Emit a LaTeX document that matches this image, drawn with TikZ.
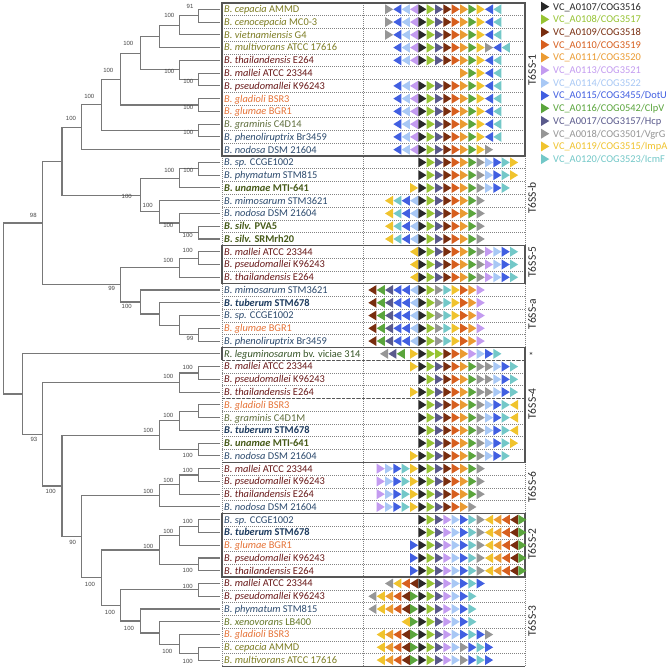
\documentclass[tikz,border=0pt]{standalone}
\usepackage{fontspec}
\setmainfont{Carlito}
\newfontfamily\bsfont{Liberation Sans}
\definecolor{gk}{RGB}{40,40,40}
\definecolor{gl}{RGB}{150,195,50}
\definecolor{gb}{RGB}{120,45,15}
\definecolor{gr}{RGB}{215,95,30}
\definecolor{go}{RGB}{235,155,50}
\definecolor{gp}{RGB}{195,155,240}
\definecolor{gq}{RGB}{168,200,245}
\definecolor{gu}{RGB}{65,95,225}
\definecolor{gg}{RGB}{90,165,60}
\definecolor{gs}{RGB}{90,90,140}
\definecolor{gv}{RGB}{150,150,150}
\definecolor{gy}{RGB}{240,195,45}
\definecolor{gt}{RGB}{115,200,200}
\definecolor{tOl}{RGB}{125,125,35}
\definecolor{tMa}{RGB}{105,25,25}
\definecolor{tOr}{RGB}{230,115,55}
\definecolor{tGr}{RGB}{95,110,60}
\definecolor{tBl}{RGB}{45,75,110}
\definecolor{tBg}{RGB}{70,90,25}
\definecolor{tBb}{RGB}{30,60,95}
\definecolor{tRl}{RGB}{55,85,40}
\definecolor{tXe}{RGB}{100,120,40}
\definecolor{treegray}{RGB}{120,120,120}
\definecolor{bsgray}{RGB}{70,70,70}
\definecolor{sepgray}{RGB}{130,130,130}
\definecolor{boxgray}{RGB}{85,85,85}
\definecolor{grpgray}{RGB}{40,40,40}
\tikzset{
  tree/.style={draw=treegray,line width=1.1pt},
  lab/.style={anchor=base west,inner sep=0pt,font=\fontsize{10.4}{12}\selectfont},
  leg/.style={anchor=base west,inner sep=0pt,font=\fontsize{10.4}{12}\selectfont},
  bs/.style={inner sep=0pt,font=\bsfont\fontsize{6}{7}\selectfont,text=bsgray},
  grp/.style={rotate=90,inner sep=0pt,font=\fontsize{11.5}{13}\selectfont,text=grpgray},
  rowsep/.style={draw=sepgray,line width=0.6pt,dash pattern=on 1pt off 1pt},
  boxline/.style={draw=boxgray,line width=1.4pt},
  dashline/.style={draw=boxgray,line width=1.4pt,dash pattern=on 3pt off 2pt},
}
\newcommand\rowy[1]{\pgfmathsetmacro\yy{9.3+12.76*(#1-1)}}
\newcommand\arow[3]{\rowy{#1}%
  \foreach \cl/\dr [count=\ii from 0] in {#3}{%
    \pgfmathsetmacro\xx{360+8.333*(#2+\ii)}%
    \if\dr R\fill[fill=g\cl] (\xx,\yy-5) -- (\xx,\yy+5) -- (\xx+8.1,\yy) -- cycle;%
    \else\fill[fill=g\cl] (\xx+8.1,\yy-5) -- (\xx+8.1,\yy+5) -- (\xx,\yy) -- cycle;\fi}}
\newcommand\lab[3]{\rowy{#1}\node[lab,text=#2] (l#1) at (224,\yy+3.4) {#3};\coordinate (t#1) at (220,\yy);}
\newcommand\legi[3]{\pgfmathsetmacro\ly{6.7+12.7*(#1-1)}%
  \fill[fill=g#2] (541,\ly-5) -- (541,\ly+5) -- (549.3,\ly) -- cycle;%
  \node[leg,text=g#2] (e#1) at (553,\ly+3.4) {#3};}
\begin{document}
\begin{tikzpicture}[x=1pt,y=-1pt]
\useasboundingbox (0,0) rectangle (670,671);
\fill[white] (0,0) rectangle (670,671);
% table grid
\foreach \i in {1,...,51} \draw[rowsep] (222,{2.92+12.76*\i}) -- (525,{2.92+12.76*\i});
\draw[rowsep] (363,2.92) -- (363,666.44);
\foreach \a/\b in {156.04/245.36,283.64/347.44,462.28/513.32,577.12/666.44}{
  \draw[rowsep] (222,\a) -- (222,\b);
  \draw[rowsep] (525,\a) -- (525,\b);}
\draw[rowsep] (222,360.2) -- (222,462.28);
% solid boxes
\draw[boxline] (222,2.92) rectangle (525,156.04);
\draw[boxline] (222,245.36) rectangle (525,283.64);
\draw[boxline] (222,513.32) rectangle (525,577.12);
\draw[boxline] (222,360.2) -- (222,347.44) -- (525,347.44) -- (525,360.2);
\draw[boxline] (525,360.2) -- (525,462.28) -- (222,462.28);
\draw[dashline] (222,360.2) -- (525,360.2);
\draw[dashline] (222,398.48) -- (525,398.48);
\draw[boxline] (222,666.44) -- (525,666.44);
% gene arrows
\arow{1}{3}{v/R,u/L,q/L,p/L,k/R,l/R,s/R,b/R,r/R,o/R,g/R,y/R,u/L,t/L}
\arow{2}{3}{v/R,u/L,q/L,p/L,k/R,l/R,s/R,b/R,r/R,o/R,g/R,y/R,u/L,t/L}
\arow{3}{3}{v/R,u/L,q/L,p/L,k/R,l/R,s/R,b/R,r/R,o/R,g/R,y/R,u/L,t/L}
\arow{4}{4}{u/L,q/L,p/L,k/R,l/R,s/R,b/R,r/R,o/R,g/R,y/R,v/R,u/L,t/L}
\arow{5}{4}{u/L,q/L,p/L,k/R,l/R,s/R,b/R,r/R,o/R,g/R,y/R,u/L,t/L}
\arow{6}{12}{o/R,g/R,y/R,u/L,t/L}
\foreach \r in {7,...,11}{\arow{\r}{4}{u/L,q/L,p/L,k/R,l/R,s/R,b/R,r/R,o/R,g/R,y/R,u/L,t/L}}
\arow{12}{4}{u/L,q/L,p/L,k/R,l/R,s/R,b/R,r/R,o/R,g/R,y/R,v/R}
\arow{13}{7}{k/R,l/R,s/R,b/R,r/R,o/R,g/R,v/R,q/R,u/R,t/R,y/R}
\arow{14}{7}{k/R,l/R,s/R,b/R,r/R,o/R,g/R,v/R,q/R,u/R,t/R,y/R}
\arow{15}{6}{y/R,k/R,l/R,s/R,b/R,r/R,o/R,g/R,v/R,q/R,u/R,t/R}
\foreach \r in {16,...,19}{\arow{\r}{3}{y/L,t/L,u/L,q/L,k/R,l/R,s/R,b/R,r/R,o/R,g/R,v/R}}
\foreach \r in {20,21,22}{\arow{\r}{6}{y/L,k/R,l/R,s/R,b/R,r/R,o/R,g/R,v/R,p/R,q/R,u/R,t/R}}
\foreach \r in {23,...,27}{\arow{\r}{1}{b/L,g/L,s/L,u/L,u/L,q/L,k/R,l/R,v/R,t/R,y/R,r/R,o/R,p/R}}
\arow{28}{2.4}{v/L,s/L,g/L}
\arow{28}{6}{y/R,k/R,l/R,l/R,b/R,r/R,o/R,p/R,q/R,u/R,t/R}
\arow{29}{6}{y/R,k/R,l/R,s/R,b/R,r/R,o/R,g/R,v/R,v/R,q/R,u/R,t/R}
\arow{30}{7}{k/R,l/R,s/R,b/R,r/R,o/R,g/R,v/R,v/R,q/R,u/R,t/R}
\arow{31}{6}{y/R,k/R,l/R,s/R,b/R,r/R,o/R,g/R,v/R,v/R,q/R,u/R,t/R}
\foreach \r in {32,33,34}{\arow{\r}{7}{k/R,l/R,s/R,b/R,r/R,o/R,g/R,v/R,q/R,u/R,t/R,y/L}}
\arow{35}{7}{k/R,l/R,s/R,b/R,r/R,o/R,g/R,v/R,q/R,u/R,t/R,y/R}
\arow{36}{6}{y/R,k/R,l/R,s/R,b/R,r/R,o/R,g/R,v/R,q/R,u/R,t/R}
\foreach \r in {37,38,39}{\arow{\r}{2}{p/R,q/R,u/R,t/R,y/R,k/R,l/R,s/R,b/R,r/R,o/R,g/R,v/R}}
\arow{40}{2}{p/R,q/R,u/R,t/R,y/R,k/R,l/R,s/R,b/R,r/R,o/R,v/R}
\foreach \r in {41,42}{\arow{\r}{7}{k/R,l/R,s/R,p/R,q/R,u/R,t/R,v/R,y/L,o/L,r/L,b/L,g/R}}
\foreach \r in {43,44,45}{\arow{\r}{6}{u/R,k/R,l/R,s/R,p/R,q/R,u/R,t/R,v/R,y/L,o/L,r/L,b/L,g/R}}
\arow{46}{3}{v/L,y/L,r/L,b/L,k/R,l/R,s/R,p/R,q/R,u/R,t/R,u/R}
\foreach \r in {47,48}{\arow{\r}{1}{v/L,y/L,o/L,r/L,b/L,g/R,k/R,l/R,s/R,p/R,q/R,u/R,t/R}}
\arow{49}{5}{y/L,g/R,k/R,l/R,s/R,p/R,q/R,u/R,t/R}
\arow{50}{2}{y/L,o/L,r/L,b/L,g/R,k/R,l/R,s/R,p/R,q/R,u/R,t/R,u/R,v/R}
\foreach \r in {51,52}{\arow{\r}{2}{y/L,o/L,r/L,b/L,g/R,k/R,l/R,s/R,p/R,q/R,v/R,u/R,t/R,u/R}}
% labels
\lab{1}{tOl}{\textit{B. cepacia} AMMD}
\lab{2}{tOl}{\textit{B. cenocepacia} MC0-3}
\lab{3}{tOl}{\textit{B. vietnamiensis} G4}
\lab{4}{tOl}{\textit{B. multivorans} ATCC 17616}
\lab{5}{tMa}{\textit{B. thailandensis} E264}
\lab{6}{tMa}{\textit{B. mallei} ATCC 23344}
\lab{7}{tMa}{\textit{B. pseudomallei} K96243}
\lab{8}{tOr}{\textit{B. gladioli} BSR3}
\lab{9}{tOr}{\textit{B. glumae} BGR1}
\lab{10}{tGr}{\textit{B. graminis} C4D14}
\lab{11}{tBl}{\textit{B. phenoliruptrix} Br3459}
\lab{12}{tBl}{\textit{B. nodosa} DSM 21604}
\lab{13}{tBl}{\textit{B. sp.} CCGE1002}
\lab{14}{tBl}{\textit{B. phymatum} STM815}
\lab{15}{tBg}{\textbf{\textit{B. unamae} MTI-641}}
\lab{16}{tBl}{\textit{B. mimosarum} STM3621}
\lab{17}{tBl}{\textit{B. nodosa} DSM 21604}
\lab{18}{tBg}{\textbf{\textit{B. silv.} PVA5}}
\lab{19}{tBg}{\textbf{\textit{B. silv.} SRMrh20}}
\lab{20}{tMa}{\textit{B. mallei} ATCC 23344}
\lab{21}{tMa}{\textit{B. pseudomallei} K96243}
\lab{22}{tMa}{\textit{B. thailandensis} E264}
\lab{23}{tBl}{\textit{B. mimosarum} STM3621}
\lab{24}{tBb}{\textbf{\textit{B. tuberum} STM678}}
\lab{25}{tBl}{\textit{B. sp.} CCGE1002}
\lab{26}{tOr}{\textit{B. glumae} BGR1}
\lab{27}{tBl}{\textit{B. phenoliruptrix} Br3459}
\lab{28}{tRl}{\textit{R. leguminosarum} bv. viciae 314}
\lab{29}{tMa}{\textit{B. mallei} ATCC 23344}
\lab{30}{tMa}{\textit{B. pseudomallei} K96243}
\lab{31}{tMa}{\textit{B. thailandensis} E264}
\lab{32}{tOr}{\textit{B. gladioli} BSR3}
\lab{33}{tGr}{\textit{B. graminis} C4D1M}
\lab{34}{tBb}{\textbf{\textit{B. tuberum} STM678}}
\lab{35}{tBg}{\textbf{\textit{B. unamae} MTI-641}}
\lab{36}{tBl}{\textit{B. nodosa} DSM 21604}
\lab{37}{tMa}{\textit{B. mallei} ATCC 23344}
\lab{38}{tMa}{\textit{B. pseudomallei} K96243}
\lab{39}{tMa}{\textit{B. thailandensis} E264}
\lab{40}{tBl}{\textit{B. nodosa} DSM 21604}
\lab{41}{tBl}{\textit{B. sp.} CCGE1002}
\lab{42}{tBb}{\textbf{\textit{B. tuberum} STM678}}
\lab{43}{tOr}{\textit{B. glumae} BGR1}
\lab{44}{tMa}{\textit{B. pseudomallei} K96243}
\lab{45}{tMa}{\textit{B. thailandensis} E264}
\lab{46}{tMa}{\textit{B. mallei} ATCC 23344}
\lab{47}{tMa}{\textit{B. pseudomallei} K96243}
\lab{48}{tBl}{\textit{B. phymatum} STM815}
\lab{49}{tXe}{\textit{B. xenovorans} LB400}
\lab{50}{tOr}{\textit{B. gladioli} BSR3}
\lab{51}{tOl}{\textit{B. cepacia} AMMD}
\lab{52}{tOl}{\textit{B. multivorans} ATCC 17616}
% group labels
\node[grp] (G1) at (532,70) {T6SS-1};
\node[grp] (Gb) at (532,198) {T6SS-b};
\node[grp] (G5) at (532,262) {T6SS-5};
\node[grp] (Ga) at (532,314) {T6SS-a};
\node[anchor=base,inner sep=0pt,font=\fontsize{10}{12}\selectfont,text=grpgray] (Gs) at (531,359) {*};
\node[grp] (G4) at (532,404) {T6SS-4};
\node[grp] (G6) at (532,487) {T6SS-6};
\node[grp] (G2) at (532,544) {T6SS-2};
\node[grp] (G3) at (532,621) {T6SS-3};
% tree nodes
\coordinate (n1) at (198.8,15.68);
\coordinate (n2) at (179.25,25.25);
\coordinate (n3) at (159.7,36.42);
\coordinate (n4) at (198.8,79.48);
\coordinate (n5) at (179.25,69.91);
\coordinate (n6) at (140.15,53.16);
\coordinate (n7) at (198.8,105.0);
\coordinate (n8) at (120.6,79.08);
\coordinate (n9) at (198.8,130.52);
\coordinate (n10) at (101.05,104.8);
\coordinate (n11) at (81.5,127.23);
\coordinate (n12) at (198.8,168.8);
\coordinate (n13) at (179.25,178.37);
\coordinate (n14) at (198.8,232.6);
\coordinate (n15) at (179.25,223.03);
\coordinate (n16) at (159.7,211.87);
\coordinate (n17) at (140.15,195.12);
\coordinate (n18) at (61.95,161.18);
\coordinate (n19) at (198.8,258.12);
\coordinate (n20) at (179.25,267.69);
\coordinate (n21) at (198.8,334.68);
\coordinate (n22) at (179.25,325.11);
\coordinate (n23) at (159.7,313.95);
\coordinate (n24) at (140.15,301.98);
\coordinate (n25) at (120.6,284.84);
\coordinate (n26) at (42.4,223.01);
\coordinate (n27) at (198.8,372.96);
\coordinate (n28) at (179.25,382.53);
\coordinate (n29) at (198.8,411.24);
\coordinate (n30) at (179.25,420.81);
\coordinate (n31) at (198.8,449.52);
\coordinate (n32) at (159.7,435.17);
\coordinate (n33) at (198.8,475.04);
\coordinate (n34) at (179.25,484.61);
\coordinate (n35) at (159.7,495.78);
\coordinate (n36) at (198.8,526.08);
\coordinate (n37) at (179.25,535.65);
\coordinate (n38) at (198.8,564.36);
\coordinate (n39) at (159.7,550.01);
\coordinate (n40) at (198.8,589.88);
\coordinate (n41) at (198.8,653.68);
\coordinate (n42) at (179.25,644.11);
\coordinate (n43) at (159.7,632.95);
\coordinate (n44) at (140.15,620.98);
\coordinate (n45) at (120.6,605.43);
\coordinate (n46) at (101.05,577.72);
\coordinate (n47) at (81.5,536.75);
\coordinate (n48) at (61.95,485.96);
\coordinate (n49) at (42.4,434.25);
\coordinate (n50) at (22.85,394.03);
\coordinate (root) at (3.3,308.52);
\foreach \p/\a/\b in {n1/t1/t2,n2/n1/t3,n3/n2/t4,n4/t6/t7,n5/t5/n4,n6/n3/n5,n7/t8/t9,n8/n6/n7,n9/t10/t11,n10/n8/n9,n11/n10/t12,n12/t13/t14,n13/n12/t15,n14/t18/t19,n15/t17/n14,n16/t16/n15,n17/n13/n16,n18/n11/n17,n19/t20/t21,n20/n19/t22,n21/t26/t27,n22/t25/n21,n23/t24/n22,n24/t23/n23,n25/n20/n24,n26/n18/n25,n27/t29/t30,n28/n27/t31,n29/t32/t33,n30/n29/t34,n31/t35/t36,n32/n30/n31,n33/t37/t38,n34/n33/t39,n35/n34/t40,n36/t41/t42,n37/n36/t43,n38/t44/t45,n39/n37/n38,n40/t46/t47,n41/t51/t52,n42/t50/n41,n43/t49/n42,n44/t48/n43,n45/n40/n44,n46/n39/n45,n47/n35/n46,n48/n32/n47,n49/n28/n48,n50/t28/n49,root/n26/n50}
  \draw[tree] (\a) -| (\p) |- (\b);
% bootstrap values
\foreach \x/\y/\v [count=\k] in {190/6.7/91,169.3/15.7/100,128.3/43.3/100,108.3/70/100,89.3/96.7/100,71/118.3/100,169.3/71.7/100,188.3/81.7/100,188.3/107.3/100,188.3/132.7/100,188.3/170/100,169.3/170/100,126.7/196.7/100,147.7/205/100,168.3/225/100,187.7/235/100,33.3/215/98,187.7/250.7/100,168.3/260/100,111.7/288.3/99,126.7/306/100,190/338.8/99,187.7/367.3/100,168.3/376.7/100,34/439.3/93,168.3/415.7/100,148.3/430/100,187.7/455/100,50.7/491.7/100,187.7/470/100,168.3/480/100,148.3/491/100,72.7/542.7/90,187.7/521.7/100,168.3/531.7/100,148.3/546/100,187.7/570.7/100,90/584.3/100,187.7/586/100,110/612.7/100,129/628.3/100,167.3/651.7/100,187.7/661.7/100}
  \node[bs] (bs\k) at (\x,\y) {\v};
% legend
\legi{1}{k}{VC\_A0107/COG3516}
\legi{2}{l}{VC\_A0108/COG3517}
\legi{3}{b}{VC\_A0109/COG3518}
\legi{4}{r}{VC\_A0110/COG3519}
\legi{5}{o}{VC\_A0111/COG3520}
\legi{6}{p}{VC\_A0113/COG3521}
\legi{7}{q}{VC\_A0114/COG3522}
\legi{8}{u}{VC\_A0115/COG3455/DotU}
\legi{9}{g}{VC\_A0116/COG0542/ClpV}
\legi{10}{s}{VC\_A0017/COG3157/Hcp}
\legi{11}{v}{VC\_A0018/COG3501/VgrG}
\legi{12}{y}{VC\_A0119/COG3515/ImpA}
\legi{13}{t}{VC\_A0120/COG3523/IcmF}
\end{tikzpicture}
\end{document}
